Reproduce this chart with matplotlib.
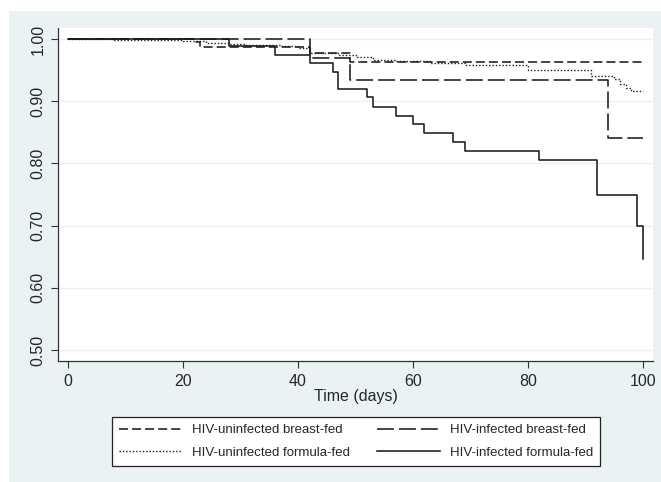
import matplotlib
matplotlib.use("Agg")
import matplotlib.pyplot as plt
from matplotlib.patches import Rectangle

plt.rcParams['font.family'] = ['Liberation Sans', 'DejaVu Sans']
plt.rcParams['lines.scale_dashes'] = False

# ---- data (Kaplan-Meier survival estimates) ----
unf_bf_days = [0, 22, 23, 42, 49, 100]
unf_bf_surv = [1.0, 0.995, 0.987, 0.978, 0.963, 0.963]

inf_bf_days = [0, 42, 49, 94, 100]
inf_bf_surv = [1.0, 0.969, 0.934, 0.841, 0.841]

unf_ff_days = [0, 8, 15, 20, 24, 28, 31, 37, 40, 42, 47, 50, 53, 57, 63, 69, 80, 91, 95, 96, 97, 98, 100]
unf_ff_surv = [1.0, 0.999, 0.998, 0.996, 0.994, 0.992, 0.990, 0.988, 0.985, 0.978, 0.974, 0.971,
               0.967, 0.964, 0.962, 0.958, 0.950, 0.941, 0.935, 0.928, 0.921, 0.917, 0.917]

inf_ff_days = [0, 28, 36, 42, 46, 47, 52, 53, 57, 60, 62, 67, 69, 82, 92, 99, 100]
inf_ff_surv = [1.0, 0.988, 0.975, 0.962, 0.947, 0.920, 0.906, 0.891, 0.877, 0.863, 0.849,
               0.834, 0.820, 0.805, 0.750, 0.700, 0.646]

labels = ["HIV-uninfected breast-fed", "HIV-infected breast-fed",
          "HIV-uninfected formula-fed", "HIV-infected formula-fed"]
x_ticks = [0, 20, 40, 60, 80, 100]
y_ticks = [0.50, 0.60, 0.70, 0.80, 0.90, 1.00]
x_label = "Time (days)"

W, H = 661, 482
fig = plt.figure(figsize=(W / 100, H / 100), dpi=100)
fig.patch.set_facecolor('white')
bg = '#EAF2F3'
bg_rect = Rectangle((9 / W, 0), 1 - 9 / W, 1 - 11 / H, transform=fig.transFigure,
                    facecolor=bg, edgecolor='none', zorder=-10)
fig.patches.append(bg_rect)

ax = fig.add_axes([58 / W, 1 - 361 / H, (653 - 58) / W, (361 - 28) / H])
ax.set_zorder(5)
ax.set_facecolor('white')

lc = '#1c1c1c'
lw = 1.15
ax.step(unf_ff_days, unf_ff_surv, where='post', color=lc, lw=1.0, linestyle=(0, (1.0, 1.4)),
        label=labels[2], zorder=3)
ax.step(unf_bf_days, unf_bf_surv, where='post', color=lc, lw=lw, linestyle=(0, (6.5, 2.9)),
        label=labels[0], zorder=4)
ax.step(inf_bf_days, inf_bf_surv, where='post', color=lc, lw=lw, linestyle=(0, (12.2, 3.6)),
        label=labels[1], zorder=4)
ax.step(inf_ff_days, inf_ff_surv, where='post', color=lc, lw=lw, linestyle='-',
        label=labels[3], zorder=5)

ax.set_xlim(-1.74, 101.74)
ax.set_ylim(0.4823, 1.0177)
ax.set_xticks(x_ticks)
ax.set_xticklabels([str(t) for t in x_ticks])
ax.set_yticks(y_ticks)
ax.set_yticklabels(["%.2f" % t for t in y_ticks], rotation=90, va='center')
for s in ['top', 'right']:
    ax.spines[s].set_visible(False)
for s in ['left', 'bottom']:
    ax.spines[s].set_color('#333333')
    ax.spines[s].set_linewidth(0.9)
ax.tick_params(axis='both', direction='out', length=5, width=0.8, color='#333333',
               labelsize=11.5, labelcolor='#262626')
ax.tick_params(axis='x', pad=4.5)
ax.tick_params(axis='y', pad=4)
ax.grid(axis='y', color=bg, lw=1.0, zorder=0)
ax.set_axisbelow(True)

fig.text((68 + 643) / 2 / W, 1 - 396.5 / H, x_label, ha='center', va='center',
         fontsize=11.5, color='#262626')

handles, labs = ax.get_legend_handles_labels()
hmap = dict(zip(labs, handles))
leg_h = [hmap[labels[0]], hmap[labels[2]], hmap[labels[1]], hmap[labels[3]]]
leg_l = [labels[0], labels[2], labels[1], labels[3]]
leg = ax.legend(leg_h, leg_l, ncol=2, loc='center',
                bbox_to_anchor=((109 + 603) / 2 / W, 1 - 441.5 / H),
                bbox_transform=fig.transFigure, fontsize=9.5, frameon=True,
                fancybox=False, edgecolor='#222222', facecolor='white', framealpha=1,
                handlelength=4.8, handletextpad=0.75, columnspacing=2.0,
                labelspacing=0.8, borderpad=0.55, borderaxespad=0)
leg.get_frame().set_linewidth(0.9)
for t in leg.get_texts():
    t.set_color('#262626')

fig.savefig("out.png", dpi=100, facecolor=fig.get_facecolor())
